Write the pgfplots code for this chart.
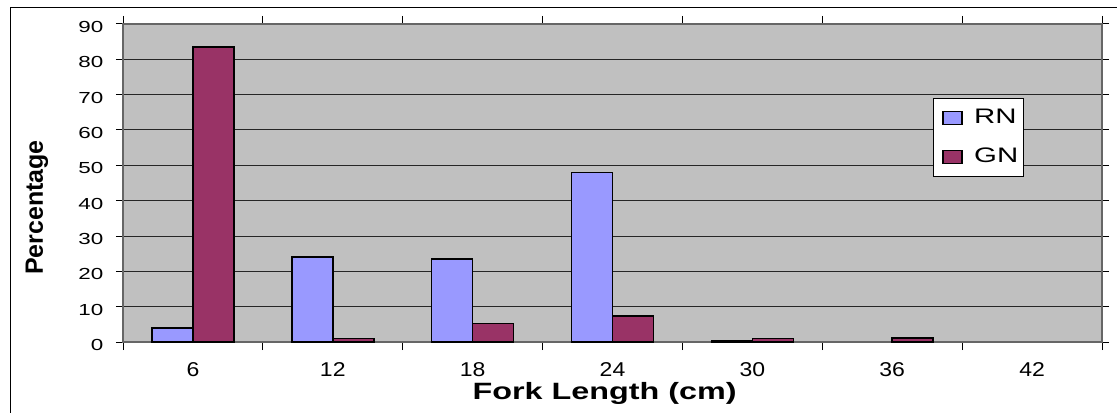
\documentclass[border=0pt]{standalone}
\usepackage{fontspec}
\setmainfont{Liberation Sans}
\newfontfamily\ytickfont[FakeStretch=1.4]{Liberation Sans}
\newfontfamily\xtickfont[FakeStretch=1.15]{Liberation Sans}
\newfontfamily\xlabfont[FakeStretch=1.37]{Liberation Sans}
\newfontfamily\legfont[FakeStretch=1.4]{Liberation Sans}
\usepackage{pgfplots}
\pgfplotsset{compat=1.18}
\definecolor{rn}{HTML}{9999FF}
\definecolor{gn}{HTML}{993366}
\definecolor{plotbg}{HTML}{C0C0C0}
\begin{document}
\begin{tikzpicture}
\useasboundingbox (0,0) rectangle (558.5pt,206pt);
\fill[white] (0,0) rectangle (558.5pt,206pt);
\draw[black, line width=0.6pt] (5.3pt,-10pt) rectangle (570pt,202.3pt);
\begin{axis}[
  at={(61.5pt,35pt)}, anchor=south west,
  scale only axis, width=489.5pt, height=159pt,
  xmin=-0.5, xmax=6.5, ymin=0, ymax=90,
  axis background/.style={fill=plotbg},
  axis line style={draw=black!60, line width=0.6pt},
  ytick={0,10,...,90},
  ymajorgrids, major grid style={black!85, line width=0.5pt},
  xtick={0,...,6}, xticklabels={6,12,18,24,30,36,42},
  minor xtick={-0.5,0.5,...,6.5},
  tick align=outside,
  major tick length=3.5pt,
  xtick style={draw=none},
  minor x tick style={draw=black, line width=0.5pt},
  minor tick length=4pt,
  ytick style={draw=black, line width=0.5pt},
  /pgf/number format/assume math mode=true,
  yticklabel style={font=\ytickfont\fontsize{8}{10}\selectfont, xshift=-2.8pt, yshift=-1.5pt},
  xticklabel style={font=\xtickfont\fontsize{10}{12}\selectfont, yshift=-3.2pt},
  xlabel={Fork Length (cm)},
  ylabel={Percentage},
  every axis x label/.style={at={(axis description cs:0.492,-0.163)}, anchor=center, font=\xlabfont\bfseries\fontsize{11.8}{13}\selectfont},
  every axis y label/.style={at={(axis description cs:-0.088,0.423)}, rotate=90, anchor=center, font=\bfseries\fontsize{12.5}{14}\selectfont},
  legend style={at={(axis description cs:0.827,0.767)}, anchor=north west,
    fill=white, draw=black, line width=0.5pt, font=\legfont\fontsize{10.5}{12}\selectfont,
    inner xsep=0pt, inner ysep=0pt, row sep=0pt, column sep=0pt,
    nodes={inner sep=0pt, anchor=west}},
  legend cell align=left,
]
\addplot[ybar, bar width=0.293, bar shift=-0.1465, fill=rn, draw=black, line width=0.8pt,
  legend image code/.code={\path[draw=none, fill=none] (0pt,-9.75pt) rectangle (20.5pt,9.75pt);
     \draw[draw=black, fill=rn, line width=0.7pt] (5pt,-3.25pt) rectangle (14.5pt,3.25pt);}]
  coordinates {(0,4) (1,24) (2,23.5) (3,48) (4,0.4)};
\addplot[ybar, bar width=0.293, bar shift=0.1465, fill=gn, draw=black, line width=0.8pt,
  legend image code/.code={\path[draw=none, fill=none] (0pt,-9.75pt) rectangle (20.5pt,9.75pt);
     \draw[draw=black, fill=gn, line width=0.7pt] (5pt,-3.25pt) rectangle (14.5pt,3.25pt);}]
  coordinates {(0,83.5) (1,1) (2,5.2) (3,7.4) (4,1) (5,1.1)};
\legend{\makebox[24.5pt][l]{RN},\makebox[24.5pt][l]{GN}}
\end{axis}
\end{tikzpicture}
\end{document}
